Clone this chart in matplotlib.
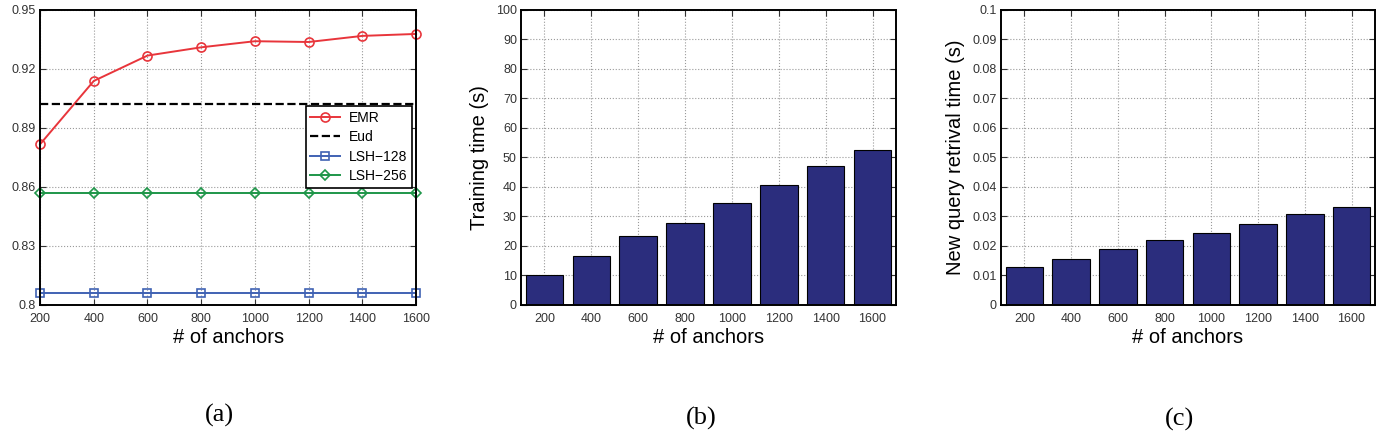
"""
Effect of the number of anchors: MAP, training time and query time
"""

import matplotlib.pyplot as plt
import numpy as np

anchors = [200, 400, 600, 800, 1000, 1200, 1400, 1600]

# (a) retrieval accuracy
emr = [0.8817, 0.9139, 0.9268, 0.9310, 0.9341, 0.9337, 0.9368, 0.9378]
eud = [0.9024] * len(anchors)
lsh_128 = [0.8059] * len(anchors)
lsh_256 = [0.8569] * len(anchors)

# (b) training time (s)
train_time = [10.1, 16.7, 23.5, 27.9, 34.6, 40.8, 47.2, 52.4]

# (c) new query retrieval time (s)
query_time = [0.0129, 0.0157, 0.0189, 0.0220, 0.0244, 0.0276, 0.0307, 0.0332]

plt.rcParams['font.family'] = ['Liberation Sans', 'DejaVu Sans']

BAR_COLOR = '#2b2d7d'
TICK_FS = 9
LABEL_FS = 14.5


def matlab_style(ax):
    for sp in ax.spines.values():
        sp.set_linewidth(1.4)
        sp.set_color('black')
    ax.tick_params(direction='in', top=True, right=True, length=4,
                   labelsize=TICK_FS, colors='#333333', width=0.8)
    ax.tick_params(axis='x', pad=5.5)
    ax.tick_params(axis='y', pad=3)
    ax.grid(True, linestyle=':', color='#9a9a9a', linewidth=0.8)
    ax.set_axisbelow(True)


fig = plt.figure(figsize=(13.81, 4.32), dpi=100)
ax1 = fig.add_axes([0.029, 0.294, 0.2723, 0.683])
ax2 = fig.add_axes([0.3773, 0.294, 0.2715, 0.683])
ax3 = fig.add_axes([0.7248, 0.294, 0.2708, 0.683])

# --- (a) ---
ax1.plot(anchors, emr, '-o', color='#e8353b', mfc='none', ms=6.5, mew=1.2, lw=1.4, label='EMR')
ax1.plot(anchors, eud, '--', color='black', lw=1.6, label='Eud')
ax1.plot(anchors, lsh_128, '-s', color='#4062b3', mfc='none', ms=6, mew=1.2, lw=1.4, label='LSH\u2212128')
ax1.plot(anchors, lsh_256, '-D', color='#1e9649', mfc='none', ms=5.5, mew=1.2, lw=1.4, label='LSH\u2212256')
ax1.set_xlim(200, 1600)
ax1.set_ylim(0.8, 0.95)
ax1.set_xticks(anchors)
yt = [0.8, 0.83, 0.86, 0.89, 0.92, 0.95]
ax1.set_yticks(yt)
ax1.set_yticklabels([f'{v:g}' for v in yt])
ax1.set_xlabel('# of anchors', fontsize=LABEL_FS, labelpad=2.5)
matlab_style(ax1)
for ln in ax1.get_lines():
    ln.set_clip_on(False)
leg = ax1.legend(loc='upper right', bbox_to_anchor=(0.989, 0.675), fontsize=10,
                 fancybox=False, framealpha=1, edgecolor='black',
                 borderpad=0.35, borderaxespad=0, handlelength=2.15,
                 handletextpad=0.6, labelspacing=0.4)
leg.get_frame().set_linewidth(1.2)

# --- (b) ---
pos = np.arange(1, len(anchors) + 1)
ax2.bar(pos, train_time, width=0.8, color=BAR_COLOR, edgecolor='black', linewidth=0.8)
ax2.set_xlim(0.5, len(anchors) + 0.5)
ax2.set_ylim(0, 100)
ax2.set_xticks(pos)
ax2.set_xticklabels([str(a) for a in anchors])
ax2.set_yticks(np.arange(0, 101, 10))
ax2.set_xlabel('# of anchors', fontsize=LABEL_FS, labelpad=2.5)
ax2.set_ylabel('Training time (s)', fontsize=LABEL_FS, labelpad=5)
matlab_style(ax2)

# --- (c) ---
ax3.bar(pos, query_time, width=0.8, color=BAR_COLOR, edgecolor='black', linewidth=0.8)
ax3.set_xlim(0.5, len(anchors) + 0.5)
ax3.set_ylim(0, 0.1)
ax3.set_xticks(pos)
ax3.set_xticklabels([str(a) for a in anchors])
yt3 = [round(i * 0.01, 2) for i in range(11)]
ax3.set_yticks(yt3)
ax3.set_yticklabels([f'{v:g}' for v in yt3])
ax3.set_xlabel('# of anchors', fontsize=LABEL_FS, labelpad=2.5)
ax3.set_ylabel('New query retrival time (s)', fontsize=LABEL_FS, labelpad=5)
matlab_style(ax3)

# captions
for x, y, s in [(0.159, 0.039, '(a)'), (0.508, 0.032, '(b)'), (0.854, 0.028, '(c)')]:
    fig.text(x, y, s, ha='center', va='center', fontsize=19, family='Liberation Serif')

fig.savefig('out.png', dpi=100)
